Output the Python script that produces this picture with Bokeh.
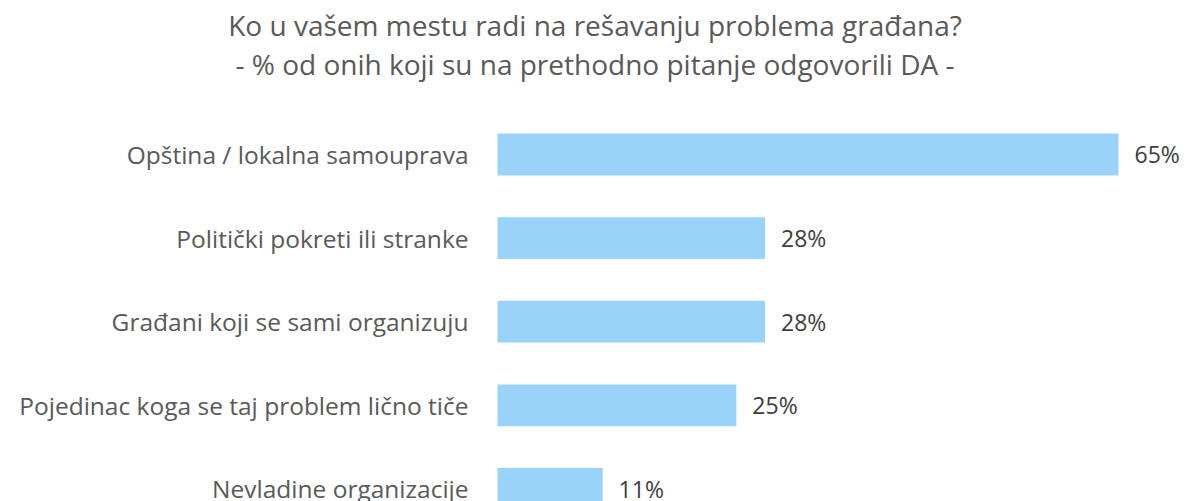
from bokeh.plotting import figure
from bokeh.models import Range1d, ColumnDataSource, LabelSet, Label
from bokeh.core.properties import value
from bokeh.embed import file_html
from bokeh.resources import INLINE

title_lines = ["Ko u vašem mestu radi na rešavanju problema građana?",
               "- % od onih koji su na prethodno pitanje odgovorili DA -"]
categories = ["Opština / lokalna samouprava",
              "Politički pokreti ili stranke",
              "Građani koji se sami organizuju",
              "Pojedinac koga se taj problem lično tiče",
              "Nevladine organizacije"]
values = [65, 28, 28, 25, 11]
value_labels = [f"{v}%" for v in values]

FONT = "Open Sans"
BAR = "#99D3F9"

pos = list(range(len(categories)))
zeros = [0] * len(categories)
src = ColumnDataSource(dict(y=pos, v=values, z=zeros, lab=value_labels, cat=categories))

p = figure(width=1185, height=501, output_backend="svg", toolbar_location=None,
           x_range=Range1d(-52.02, 72.01), y_range=Range1d(4.151, -1.842),
           min_border=0, outline_line_color=None)
p.hbar(y="y", right="v", left=0, height=0.5, source=src, color=BAR, line_color=None)

p.axis.visible = False
p.grid.visible = False

p.text(x="z", y="y", text="cat", source=src, x_offset=-29,
       text_align="right", text_baseline="middle",
       text_font=value(FONT), text_font_size="24.5px", text_color="#595959")

labels = LabelSet(x="v", y="y", text="lab", source=src, x_offset=16,
                  text_baseline="middle", text_align="left",
                  text_font=value(FONT), text_font_size="23px", text_color="#3d3d3d")
p.add_layout(labels)

for i, t in enumerate(title_lines):
    p.add_layout(Label(x=594.5, y=477 - 39 * i, x_units="screen", y_units="screen",
                       text=t, text_align="center", text_baseline="middle",
                       text_font=FONT, text_font_size="28px", text_color="#595959"))

open("out.html", "w").write(file_html(p, INLINE))
